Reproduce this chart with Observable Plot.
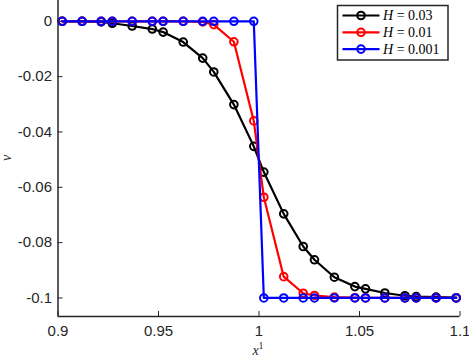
<!DOCTYPE html>
<html><head><meta charset="utf-8">
<script src="https://cdn.jsdelivr.net/npm/d3@7"></script>
<script src="https://cdn.jsdelivr.net/npm/@observablehq/plot@0.6"></script>
<style>body{margin:0;background:#fff;} svg{display:block;}</style>
</head><body>
<div id="chart"></div>
<script>
const xNodes = [0.9021,0.9120,0.9215,0.9270,0.9369,0.9469,0.9523,0.9623,0.9720,0.9775,0.9875,0.9974,1.0024,1.0123,1.0220,1.0276,1.0375,1.0477,1.0530,1.0626,1.0726,1.0782,1.0881,1.0981];
const vH003 = [0,0,-0.0002,-0.0007,-0.0017,-0.0028,-0.0039,-0.0075,-0.0133,-0.0183,-0.0301,-0.0452,-0.0545,-0.0696,-0.0814,-0.0862,-0.0925,-0.0959,-0.0967,-0.0982,-0.0992,-0.0995,-0.0997,-0.0999];
const vH001 = [0,0,0,0,0,0,0,0,-0.0002,-0.0012,-0.0074,-0.036,-0.0636,-0.0923,-0.0983,-0.0991,-0.0997,-0.0999,-0.1,-0.1,-0.1,-0.1,-0.1,-0.1];
const vH0001 = [0,0,0,0,0,0,0,0,0,0,0,0,-0.1,-0.1,-0.1,-0.1,-0.1,-0.1,-0.1,-0.1,-0.1,-0.1,-0.1,-0.1];
const seriesNames = ["H = 0.03","H = 0.01","H = 0.001"];
const seriesColors = ["#000000","#ff0000","#0000ff"];
const xTicks = [0.9,0.95,1,1.05,1.1];
const xTickLabels = ["0.9","0.95","1","1.05","1.1"];
const yTicks = [0,-0.02,-0.04,-0.06,-0.08,-0.1];
const yTickLabels = ["0","-0.02","-0.04","-0.06","-0.08","-0.1"];

const xDom = [0.9, 1.1];
const yDom = [-0.1067, 0.00752];
const axisColor = "#262626";
const W = 469, H = 358, mL = 57.5, mR = 9.5, mT = 0, mB = 42;
const tickLen = 5;
const xPerPx = (xDom[1]-xDom[0])/(W-mL-mR);
const yPerPx = (yDom[1]-yDom[0])/(H-mT-mB);

const allSeries = [vH003, vH001, vH0001];
const data = [];
allSeries.forEach((vals, s) => vals.forEach((v, i) => data.push({x: xNodes[i], v, s: seriesNames[s]})));

const marks = [];
marks.push(Plot.ruleX(xTicks, {x: d=>d, y1: yDom[0], y2: yDom[0] + tickLen*yPerPx, stroke: axisColor, strokeWidth: 1}));
marks.push(Plot.ruleY(yTicks, {y: d=>d, x1: xDom[0], x2: xDom[0] + tickLen*xPerPx, stroke: axisColor, strokeWidth: 1}));
seriesNames.forEach((name, s) => {
  const d = data.filter(r => r.s === name);
  marks.push(Plot.line(d, {x: "x", y: "v", stroke: seriesColors[s], strokeWidth: 2.2}));
  marks.push(Plot.dot(d, {x: "x", y: "v", stroke: seriesColors[s], fill: "none", r: 3.8, strokeWidth: 2}));
});
marks.push(Plot.ruleY([yDom[0]], {stroke: axisColor, strokeWidth: 1.5}));
marks.push(Plot.ruleX([xDom[0]], {stroke: axisColor, strokeWidth: 1.5}));
marks.push(Plot.axisX(xTicks, {tickSize: 0, tickPadding: 9, tickFormat: (d,i) => xTickLabels[i], fontSize: 15, fill: axisColor, fontFamily: "Liberation Sans, Arial, sans-serif", label: null}));
marks.push(Plot.axisY(yTicks, {tickSize: 0, tickPadding: 6, tickFormat: (d,i) => yTickLabels[i], fontSize: 15, fill: axisColor, fontFamily: "Liberation Sans, Arial, sans-serif", label: null}));

const plot = Plot.plot({
  width: W, height: H, marginLeft: mL, marginRight: mR, marginTop: mT, marginBottom: mB,
  x: {domain: xDom}, y: {domain: yDom},
  style: {background: "#fff", overflow: "visible"},
  marks
});
document.getElementById("chart").appendChild(plot);

const svg = d3.select(plot);
// axis labels
svg.append("text").attr("x", 258).attr("y", 355).attr("text-anchor", "middle")
  .attr("font-family", "Liberation Serif, serif").attr("font-style", "italic").attr("font-size", 14).attr("fill", axisColor)
  .html('x<tspan dy="-6" font-size="10" font-style="normal">1</tspan>');
svg.append("text").attr("transform", "translate(11,158) rotate(-90)").attr("text-anchor", "middle")
  .attr("font-family", "Liberation Serif, serif").attr("font-style", "italic").attr("font-size", 14).attr("fill", axisColor)
  .text("v");
// legend
const lg = svg.append("g");
lg.append("rect").attr("x", 337.5).attr("y", 5.5).attr("width", 110.5).attr("height", 54.5)
  .attr("fill", "#fff").attr("stroke", axisColor).attr("stroke-width", 1.5);
seriesNames.forEach((name, s) => {
  const yy = 15.5 + s*16.8;
  lg.append("line").attr("x1", 342.5).attr("x2", 379.5).attr("y1", yy).attr("y2", yy).attr("stroke", seriesColors[s]).attr("stroke-width", 2.2);
  lg.append("circle").attr("cx", 361).attr("cy", yy).attr("r", 3.8).attr("fill", "none").attr("stroke", seriesColors[s]).attr("stroke-width", 2);
  const parts = name.split(" = ");
  lg.append("text").attr("x", 383).attr("y", yy + 4.8).attr("text-anchor", "start").attr("font-family", "Liberation Serif, serif").attr("font-size", 14).attr("fill", "#000")
    .html('<tspan font-style="italic">' + parts[0] + '</tspan> = ' + parts[1]);
});
</script>
</body></html>
